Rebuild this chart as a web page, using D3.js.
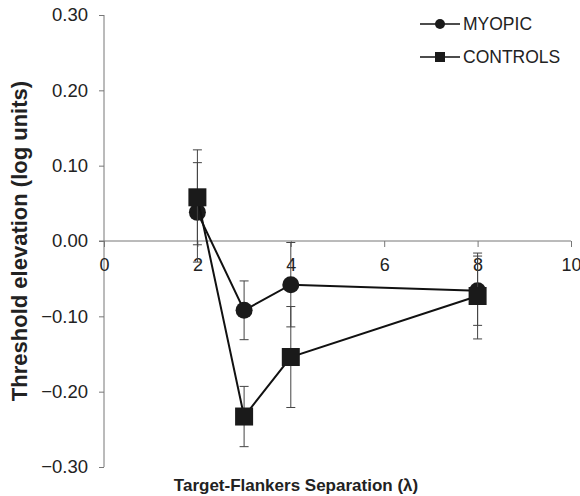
<!DOCTYPE html>
<html>
<head>
<meta charset="utf-8">
<script src="https://cdn.jsdelivr.net/npm/d3@7"></script>
<style>
  body { margin: 0; background: #fff; }
  text { font-family: "Liberation Sans", Arial, sans-serif; fill: #222; }
</style>
</head>
<body>
<svg id="chart" width="580" height="496"></svg>
<script>
// ---- data ----
var separations = [2, 3, 4, 8];
var myopicMean = [0.038, -0.092, -0.058, -0.066];
var myopicErr  = [0.066, 0.039, 0.056, 0.046];
var controlMean = [0.058, -0.233, -0.154, -0.073];
var controlErr  = [0.063, 0.040, 0.067, 0.057];
var xTicks = [0, 2, 4, 6, 8, 10];
var yTicks = [0.30, 0.20, 0.10, 0.00, -0.10, -0.20, -0.30];

var svg = d3.select("#chart");

var x = d3.scaleLinear().domain([0, 10]).range([104, 571]);
var y = d3.scaleLinear().domain([-0.3, 0.3]).range([467, 15]);

// ---- axes ----
var yAxis = svg.append("g")
  .attr("transform", "translate(" + x(0) + ",0)")
  .call(d3.axisLeft(y).tickValues(yTicks).tickSize(5).tickPadding(11)
    .tickFormat(d3.format(".2f")));
yAxis.select(".domain").attr("stroke", "#777").attr("d", "M0," + y(0.3) + "V" + y(-0.3));
yAxis.selectAll(".tick line").attr("stroke", "#777");
yAxis.selectAll("text").style("font-size", "18.5px").attr("fill", "#222");

var xAxis = svg.append("g")
  .attr("transform", "translate(0," + y(0) + ")")
  .call(d3.axisBottom(x).tickValues(xTicks).tickSize(6).tickPadding(11));
xAxis.select(".domain").attr("stroke", "#777").attr("d", "M" + (x(0) - 5) + ",0H" + x(10));
xAxis.selectAll(".tick line").attr("stroke", "#777");
xAxis.selectAll("text").style("font-size", "18px").attr("fill", "#222");

// ---- titles ----
svg.append("text")
  .attr("transform", "translate(27," + y(0) + ") rotate(-90)")
  .attr("text-anchor", "middle")
  .style("font-size", "22px").style("font-weight", "bold")
  .text("Threshold elevation (log units)");

svg.append("text")
  .attr("x", 296).attr("y", 491)
  .attr("text-anchor", "middle")
  .style("font-size", "17px").style("font-weight", "bold")
  .text("Target-Flankers Separation (λ)");

// ---- series ----
function drawSeries(means, errs, shape) {
  var pts = separations.map(function(s, i) { return {x: s, m: means[i], e: errs[i]}; });
  var g = svg.append("g");

  var eb = g.selectAll(".eb").data(pts).enter().append("g").attr("class", "eb");
  eb.append("line")
    .attr("x1", function(d) { return x(d.x); }).attr("x2", function(d) { return x(d.x); })
    .attr("y1", function(d) { return y(d.m + d.e); }).attr("y2", function(d) { return y(d.m - d.e); });
  [1, -1].forEach(function(sg) {
    eb.append("line")
      .attr("x1", function(d) { return x(d.x) - 4.5; }).attr("x2", function(d) { return x(d.x) + 4.5; })
      .attr("y1", function(d) { return y(d.m + sg * d.e); }).attr("y2", function(d) { return y(d.m + sg * d.e); });
  });
  eb.selectAll("line").attr("stroke", "#444").attr("stroke-width", 1);

  g.append("path")
    .datum(pts)
    .attr("fill", "none").attr("stroke", "#111").attr("stroke-width", 2)
    .attr("d", d3.line().x(function(d) { return x(d.x); }).y(function(d) { return y(d.m); }));

  if (shape == "circle") {
    g.selectAll("circle").data(pts).enter().append("circle")
      .attr("cx", function(d) { return x(d.x); })
      .attr("cy", function(d) { return y(d.m); })
      .attr("r", 8.5).attr("fill", "#1a1a1a");
  } else {
    g.selectAll("rect").data(pts).enter().append("rect")
      .attr("x", function(d) { return x(d.x) - 9; })
      .attr("y", function(d) { return y(d.m) - 9; })
      .attr("width", 18).attr("height", 18).attr("fill", "#1a1a1a");
  }
}

drawSeries(myopicMean, myopicErr, "circle");
drawSeries(controlMean, controlErr, "square");

// ---- legend ----
var legendItems = [{name: "MYOPIC", shape: "circle"}, {name: "CONTROLS", shape: "square"}];
var legend = svg.selectAll(".legend").data(legendItems).enter().append("g")
  .attr("class", "legend")
  .attr("transform", function(d, i) { return "translate(420," + (24 + i * 33) + ")"; });
legend.append("line").attr("x1", 0).attr("x2", 40).attr("stroke", "#111").attr("stroke-width", 1.5);
legend.each(function(d) {
  var el = d3.select(this);
  if (d.shape == "circle") el.append("circle").attr("cx", 20).attr("r", 5).attr("fill", "#1a1a1a");
  else el.append("rect").attr("x", 15).attr("y", -5).attr("width", 10).attr("height", 10).attr("fill", "#1a1a1a");
});
legend.append("text").attr("x", 43).attr("dy", "0.36em")
  .style("font-size", "17.5px").text(function(d) { return d.name; });
</script>
</body>
</html>
